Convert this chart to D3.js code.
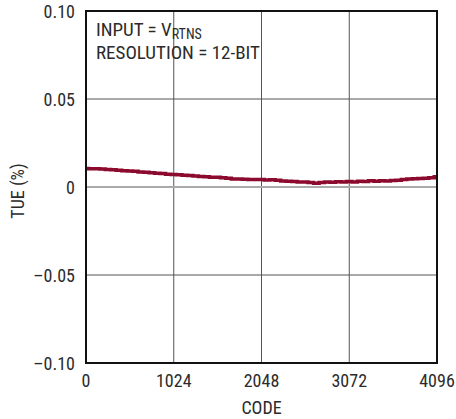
<!DOCTYPE html>
<html>
<head>
<meta charset="utf-8">
<script src="https://cdn.jsdelivr.net/npm/d3@7"></script>
<style>
  body { margin: 0; background: #fff; }
  text { font-family: "Roboto Condensed", Roboto, "Liberation Sans", Arial, sans-serif; font-weight: 400; fill: #2b2b2b; }
</style>
</head>
<body>
<svg id="chart"></svg>
<script>
// measured TUE, one reading every 64 codes
var codes = d3.range(0, 4097, 64);
var tue = [
  0.0105, 0.0104, 0.0104, 0.0102, 0.0099, 0.0098, 0.0095, 0.0093,
  0.0091, 0.0089, 0.0085, 0.0084, 0.0081, 0.0078, 0.0076, 0.0073,
  0.0071, 0.0069, 0.0067, 0.0065, 0.0063, 0.0060, 0.0058, 0.0056,
  0.0055, 0.0052, 0.0050, 0.0046, 0.0045, 0.0044, 0.0042, 0.0043,
  0.0042, 0.0040, 0.0041, 0.0038, 0.0034, 0.0032, 0.0031, 0.0029,
  0.0029, 0.0025, 0.0021, 0.0026, 0.0029, 0.0027, 0.0030, 0.0028,
  0.0031, 0.0029, 0.0033, 0.0031, 0.0035, 0.0032, 0.0036, 0.0034,
  0.0037, 0.0039, 0.0042, 0.0045, 0.0047, 0.0049, 0.0050, 0.0053,
  0.0058];
var xTicks = [0, 1024, 2048, 3072, 4096];
var yTicks = [-0.10, -0.05, 0, 0.05, 0.10];
var yLabels = ["\u20130.10", "\u20130.05", "0", "0.05", "0.10"];

var width = 456, height = 419;
var margin = {top: 11, right: 19, bottom: 56, left: 86};

var svg = d3.select("#chart").attr("width", width).attr("height", height);

var x = d3.scaleLinear().domain([0, 4096]).range([margin.left, width - margin.right]);
var y = d3.scaleLinear().domain([-0.1, 0.1]).range([height - margin.bottom, margin.top]);

// grid
svg.append("g").selectAll("line")
  .data(xTicks.slice(1, -1))
  .enter().append("line")
  .attr("x1", d => x(d)).attr("x2", d => x(d))
  .attr("y1", y(0.1)).attr("y2", y(-0.1))
  .attr("stroke", "#555").attr("stroke-width", 1);

svg.append("g").selectAll("line")
  .data(yTicks.slice(1, -1))
  .enter().append("line")
  .attr("x1", x(0)).attr("x2", x(4096))
  .attr("y1", d => y(d)).attr("y2", d => y(d))
  .attr("stroke", d => d === 0 ? "#aaa" : "#555")
  .attr("stroke-width", d => d === 0 ? 2 : 1);

// data line
var line = d3.line().curve(d3.curveStep).x((d, i) => x(codes[i])).y(d => y(d));
svg.append("path")
  .datum(tue)
  .attr("d", line)
  .attr("fill", "none")
  .attr("stroke", "#8b0a2e")
  .attr("stroke-width", 3.5);

// frame
svg.append("rect")
  .attr("x", x(0)).attr("y", y(0.1))
  .attr("width", x(4096) - x(0)).attr("height", y(-0.1) - y(0.1))
  .attr("fill", "none").attr("stroke", "#111").attr("stroke-width", 2);

// tick labels
svg.append("g").selectAll("text")
  .data(yTicks)
  .enter().append("text")
  .attr("x", x(0) - 11).attr("y", d => y(d) + 7)
  .attr("text-anchor", "end")
  .style("font-size", "18px")
  .text((d, i) => yLabels[i]);

svg.append("g").selectAll("text")
  .data(xTicks)
  .enter().append("text")
  .attr("x", d => x(d)).attr("y", 387)
  .attr("text-anchor", "middle")
  .style("font-size", "18px")
  .text(d => d);

svg.append("text")
  .attr("x", (x(0) + x(4096)) / 2).attr("y", 414)
  .attr("text-anchor", "middle")
  .style("font-size", "18px")
  .text("CODE");

svg.append("text")
  .attr("transform", "translate(24," + (y(0) + 4) + ") rotate(-90)")
  .attr("text-anchor", "middle")
  .style("font-size", "18px")
  .text("TUE (%)");

var note = svg.append("text").attr("x", 96).attr("y", 36).style("font-size", "19px");
note.append("tspan").text("INPUT = V");
note.append("tspan").attr("dy", 3).style("font-size", "14px").text("RTNS");
svg.append("text").attr("x", 96).attr("y", 59).style("font-size", "19px").text("RESOLUTION = 12-BIT");
</script>
</body>
</html>
